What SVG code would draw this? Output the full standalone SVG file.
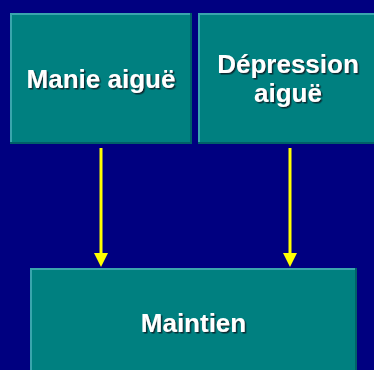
<svg xmlns="http://www.w3.org/2000/svg" width="374" height="370" viewBox="0 0 374 370">
<defs>
<filter id="sh" x="-10%" y="-20%" width="120%" height="150%">
<feDropShadow dx="1.5" dy="1.5" stdDeviation="0" flood-color="#0a2a30" flood-opacity="1"/>
</filter>
<marker id="ah" markerWidth="14" markerHeight="14" refX="3" refY="7" orient="auto" markerUnits="userSpaceOnUse" viewBox="0 0 14 14">
<path d="M0,0 L14,7 L0,14 Z" fill="#ffff00"/>
</marker>
<style>
.box{fill:#008080}
.hi{fill:#3aa5ad}
.lo{fill:#006068}
.t{font-family:"Liberation Sans",Arial,sans-serif;font-weight:bold;font-size:26px;fill:#ffffff;text-anchor:middle;filter:url(#sh)}
.c{stroke:#ffff00;stroke-width:3;fill:none;marker-end:url(#ah)}
</style>
</defs>
<rect x="0" y="0" width="374" height="370" fill="#000080"/>
<g id="manie">
<rect class="box" x="10" y="13" width="182" height="131"/>
<rect class="hi" x="10" y="13" width="182" height="2"/>
<rect class="hi" x="10" y="13" width="2" height="131"/>
<rect class="lo" x="190" y="13" width="2" height="131"/>
<rect class="lo" x="10" y="142" width="182" height="2"/>
<text class="t" x="101" y="88">Manie aiguë</text>
</g>
<g id="depression">
<rect class="box" x="198" y="13" width="182" height="131"/>
<rect class="hi" x="198" y="13" width="182" height="2"/>
<rect class="hi" x="198" y="13" width="2" height="131"/>
<rect class="lo" x="198" y="142" width="182" height="2"/>
<text class="t" x="288" y="73">Dépression</text>
<text class="t" x="288" y="102">aiguë</text>
</g>
<g id="maintien">
<rect class="box" x="30" y="268" width="327" height="110"/>
<rect class="hi" x="30" y="268" width="327" height="2"/>
<rect class="hi" x="30" y="268" width="2" height="110"/>
<rect class="lo" x="355" y="268" width="2" height="110"/>
<text class="t" x="193.5" y="332">Maintien</text>
</g>
<g id="connectors">
<line class="c" x1="101" y1="148" x2="101" y2="256"/>
<line class="c" x1="290" y1="148" x2="290" y2="256"/>
</g>
</svg>
